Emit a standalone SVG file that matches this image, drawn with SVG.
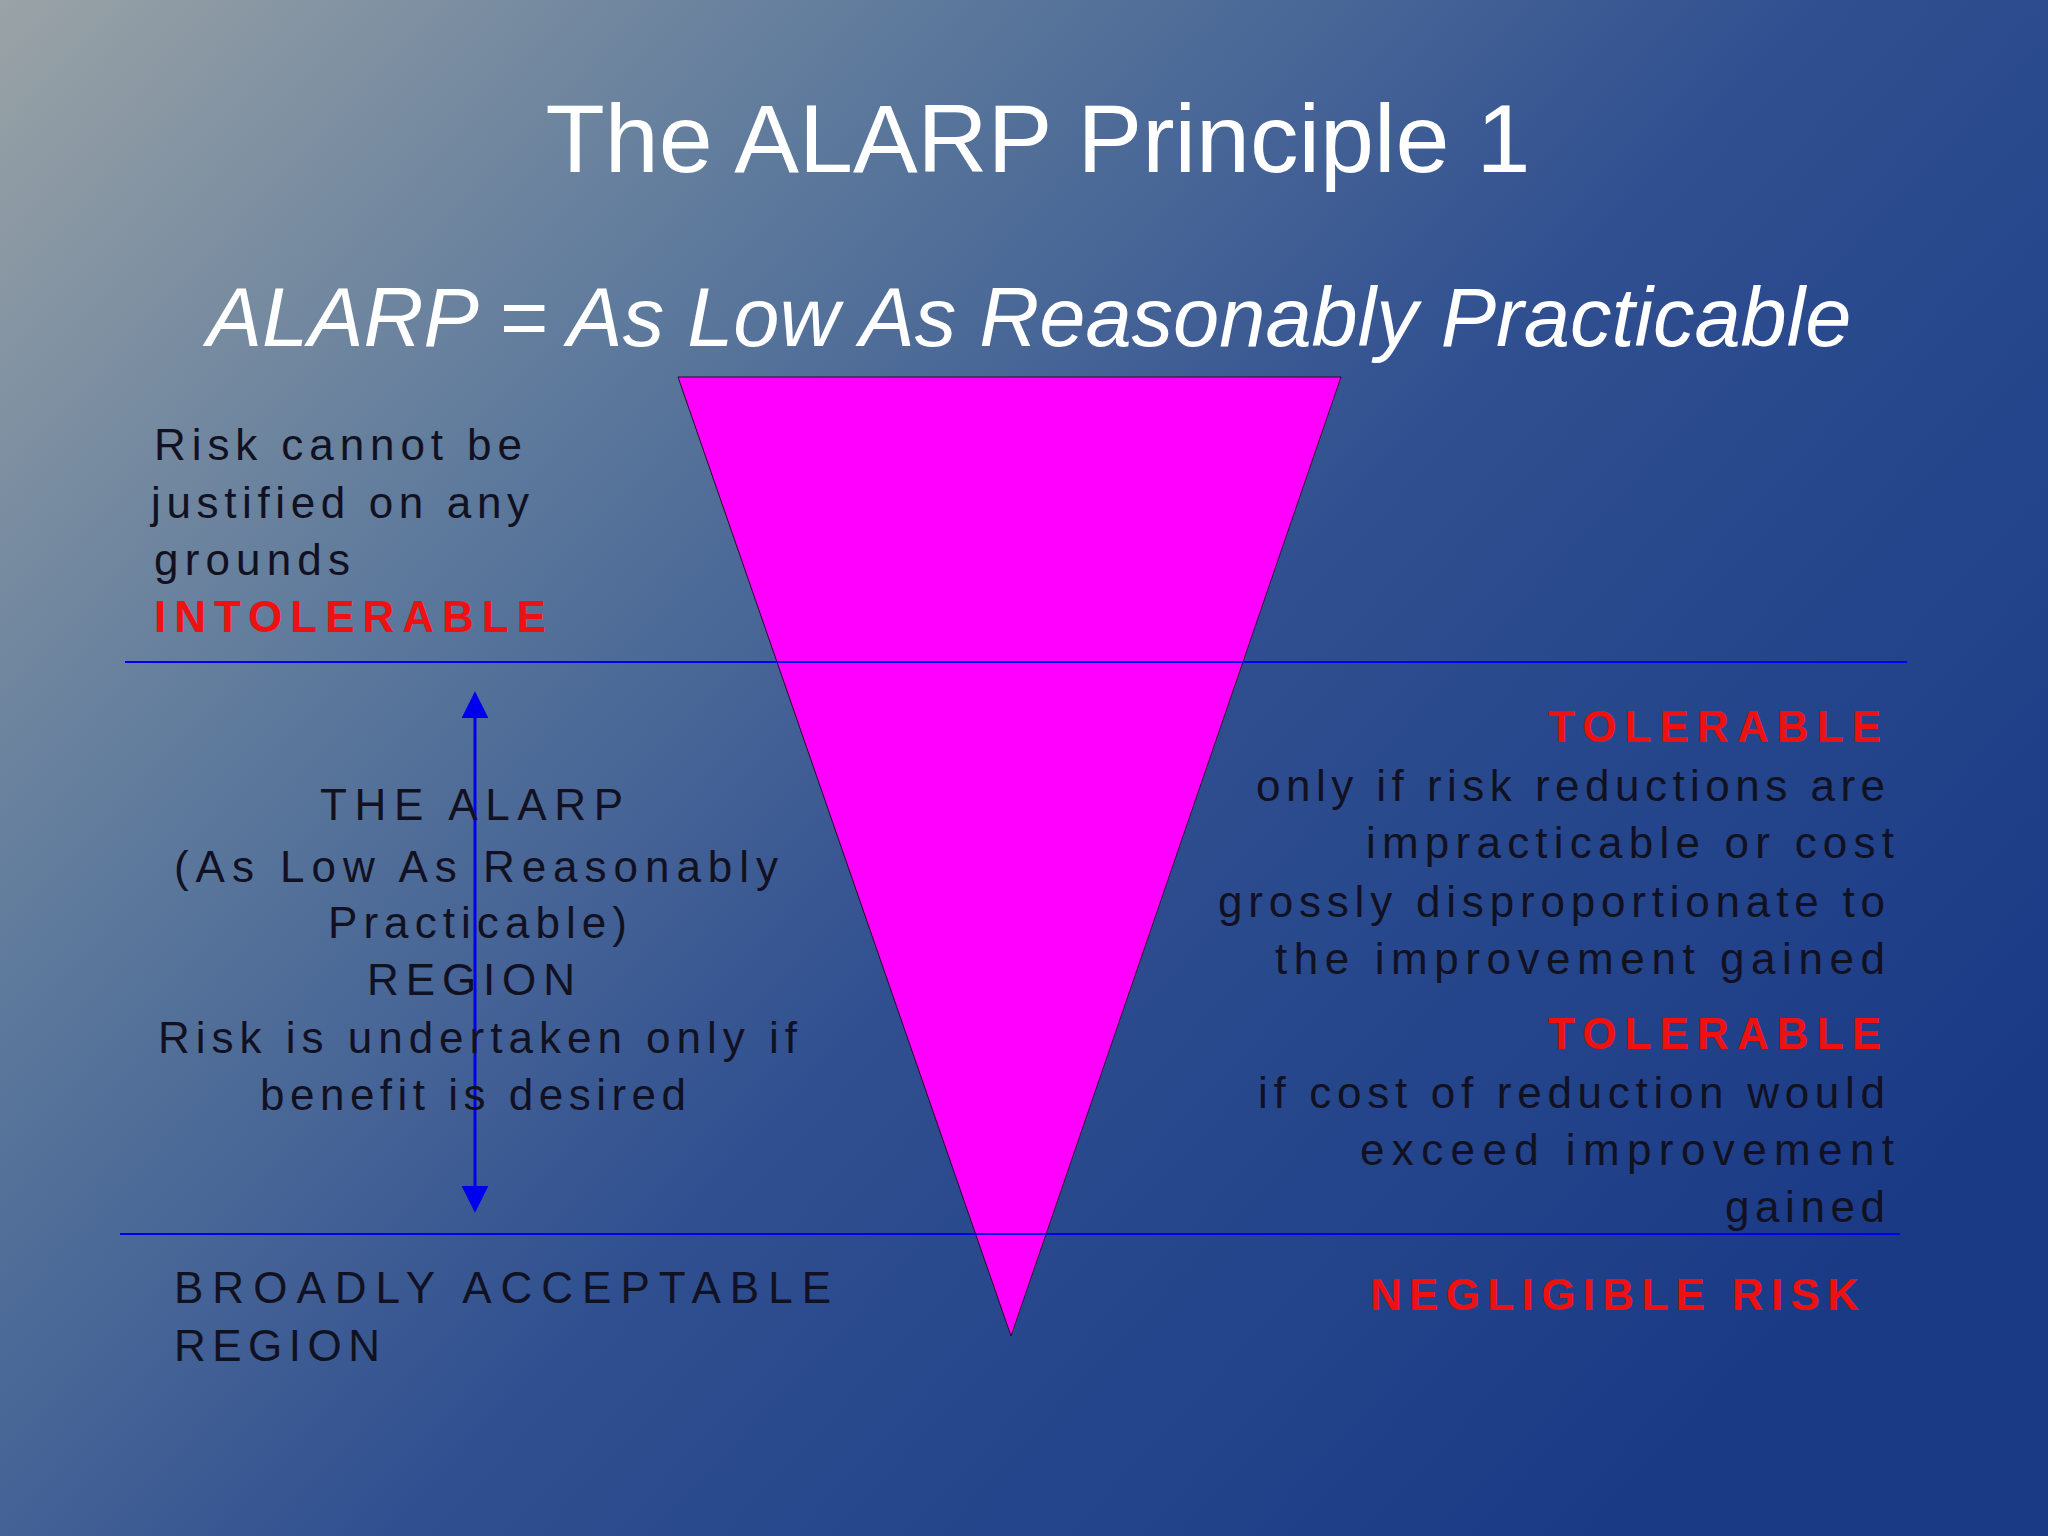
<svg xmlns="http://www.w3.org/2000/svg" width="2048" height="1536" viewBox="0 0 2048 1536">
<defs>
<linearGradient id="bg" x1="0" y1="0" x2="1" y2="0.7">
<stop offset="0" stop-color="#9aa3a6"/>
<stop offset="0.3" stop-color="#5e7a9c"/>
<stop offset="0.6" stop-color="#2f4f90"/>
<stop offset="1" stop-color="#1a3a86"/>
</linearGradient>
<marker id="ah" viewBox="0 0 10 10" refX="9" refY="5" markerWidth="9" markerHeight="9" orient="auto-start-reverse" markerUnits="strokeWidth">
<path d="M0,0 L10,5 L0,10 z" fill="#0000ee"/>
</marker>
<style>
.t{font-family:"Liberation Sans Narrow","Liberation Sans",Arial,sans-serif;font-size:44px;fill:#111122}
.r{fill:#ee1111;font-weight:bold}
.h{font-family:"Liberation Sans",Arial,sans-serif;fill:#ffffff}
</style>
</defs>
<rect width="2048" height="1536" fill="url(#bg)"/>
<text class="h" x="1038" y="172" font-size="97" text-anchor="middle">The ALARP Principle 1</text>
<text class="h" x="1029" y="346" font-size="83" font-style="italic" text-anchor="middle">ALARP = As Low As Reasonably Practicable</text>
<g id="triangle"><polygon points="678,377 1341,377 1011,1336" fill="#ff00ff" stroke="#330033" stroke-width="1"/></g>
<g id="connectors">
<line x1="125" y1="662" x2="1907" y2="662" stroke="#0000ee" stroke-width="2"/>
<line x1="120" y1="1234" x2="1900" y2="1234" stroke="#0000ee" stroke-width="2"/>
<line x1="475" y1="694" x2="475" y2="1210" stroke="#0000ee" stroke-width="3" marker-start="url(#ah)" marker-end="url(#ah)"/>
</g>
<g id="intolerable">
<text class="t" x="154" y="460" textLength="368" lengthAdjust="spacing">Risk cannot be</text>
<text class="t" x="151" y="518" textLength="378" lengthAdjust="spacing">justified on any</text>
<text class="t" x="154" y="575" textLength="196" lengthAdjust="spacing">grounds</text>
<text class="t r" x="154" y="632" textLength="392" lengthAdjust="spacing">INTOLERABLE</text>
</g>
<g id="alarp-region">
<text class="t" x="320" y="820" textLength="303" lengthAdjust="spacing">THE ALARP</text>
<text class="t" x="174" y="882" textLength="604" lengthAdjust="spacing">(As Low As Reasonably</text>
<text class="t" x="328" y="938" textLength="299" lengthAdjust="spacing">Practicable)</text>
<text class="t" x="367" y="995" textLength="208" lengthAdjust="spacing">REGION</text>
<text class="t" x="158" y="1053" textLength="639" lengthAdjust="spacing">Risk is undertaken only if</text>
<text class="t" x="260" y="1110" textLength="426" lengthAdjust="spacing">benefit is desired</text>
</g>
<g id="tolerable">
<text class="t r" x="1548" y="742" textLength="333" lengthAdjust="spacing">TOLERABLE</text>
<text class="t" x="1256" y="801" textLength="629" lengthAdjust="spacing">only if risk reductions are</text>
<text class="t" x="1366" y="858" textLength="528" lengthAdjust="spacing">impracticable or cost</text>
<text class="t" x="1218" y="917" textLength="667" lengthAdjust="spacing">grossly disproportionate to</text>
<text class="t" x="1275" y="974" textLength="610" lengthAdjust="spacing">the improvement gained</text>
<text class="t r" x="1548" y="1049" textLength="333" lengthAdjust="spacing">TOLERABLE</text>
<text class="t" x="1258" y="1108" textLength="627" lengthAdjust="spacing">if cost of reduction would</text>
<text class="t" x="1360" y="1165" textLength="534" lengthAdjust="spacing">exceed improvement</text>
<text class="t" x="1725" y="1222" textLength="160" lengthAdjust="spacing">gained</text>
</g>
<g id="broadly">
<text class="t" x="174" y="1303" textLength="657" lengthAdjust="spacing">BROADLY ACCEPTABLE</text>
<text class="t" x="174" y="1361" textLength="206" lengthAdjust="spacing">REGION</text>
<text class="t r" x="1370" y="1310" textLength="489" lengthAdjust="spacing">NEGLIGIBLE RISK</text>
</g>
</svg>
